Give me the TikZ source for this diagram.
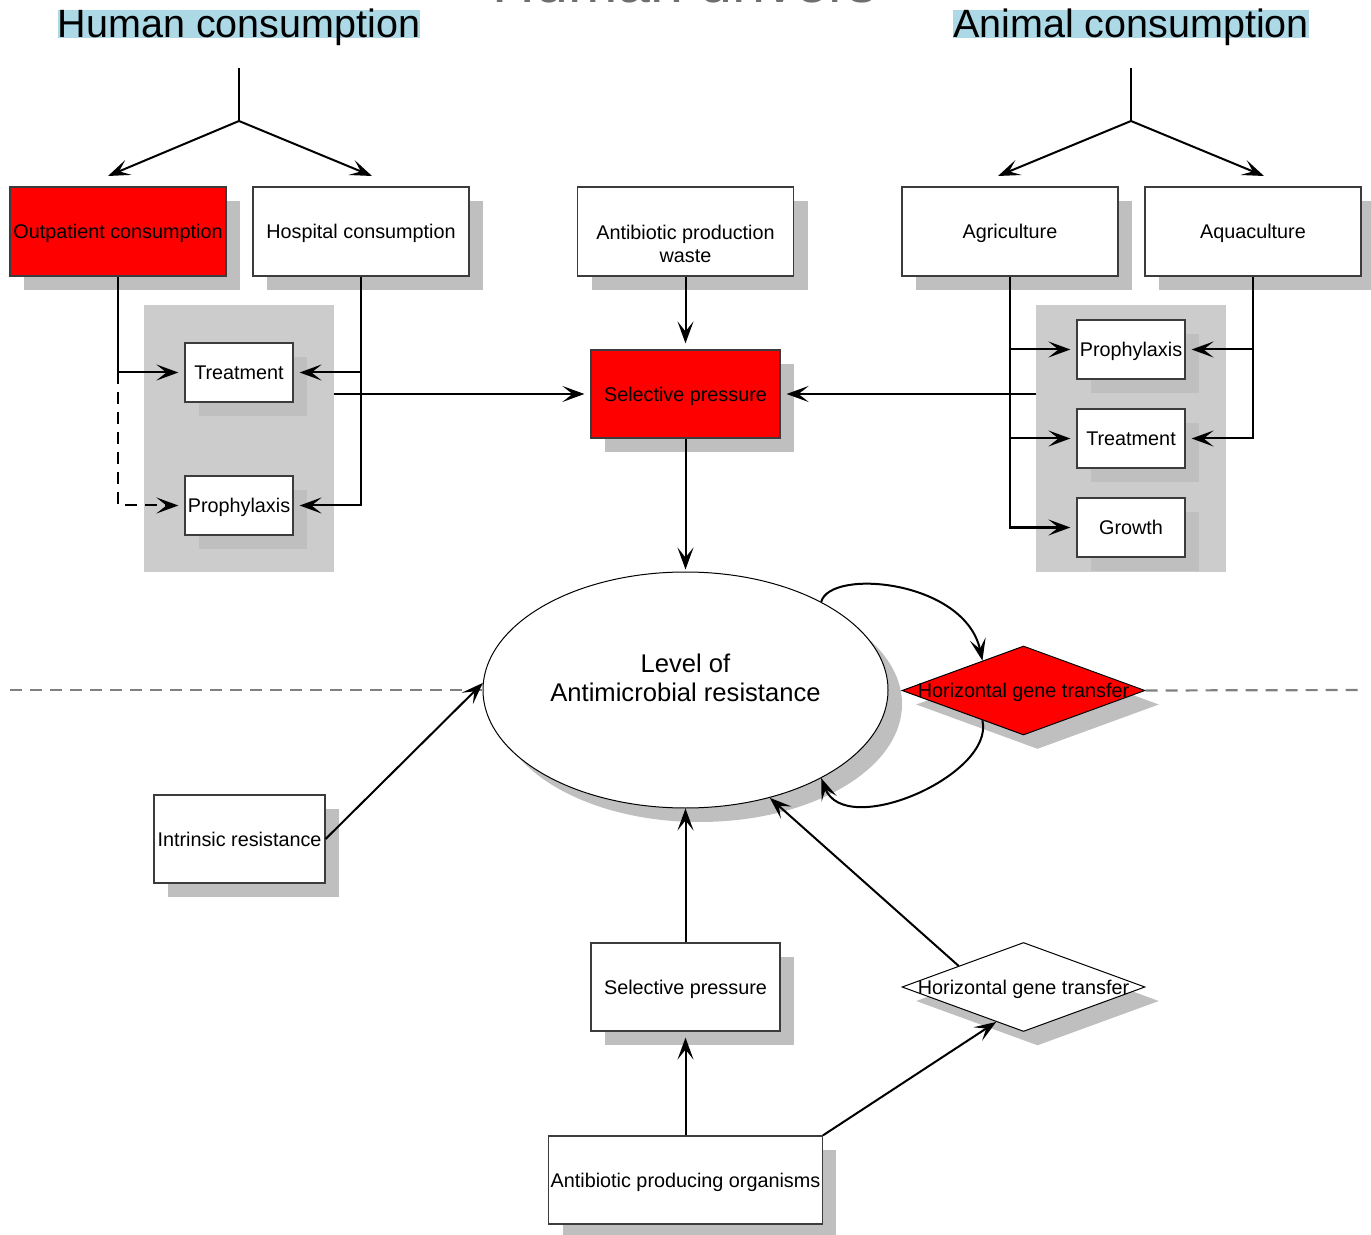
\documentclass[tikz,border=0pt]{standalone}
\usepackage{fontspec}
\setmainfont{Liberation Sans}
\usetikzlibrary{arrows.meta,shapes.geometric,shadows}
\definecolor{shgray}{RGB}{191,191,191}
\definecolor{panelgray}{RGB}{204,204,204}
\definecolor{boxborder}{RGB}{60,60,60}
\definecolor{titlebg}{RGB}{173,216,230}
\definecolor{dashgray}{RGB}{128,128,128}
\definecolor{hdgray}{RGB}{110,110,110}
\begin{document}
\begin{tikzpicture}[x=0.5pt,y=-0.5pt,
  shd/.style={drop shadow={shadow xshift=7pt,shadow yshift=-7pt,fill=shgray,opacity=1}},
  txtf/.style={font=\fontsize{9.9}{11.5}\selectfont},
  txt/.style={txtf,text height=7.1pt,text depth=0pt},
  box/.style={draw=boxborder,line width=0.6pt,fill=white,shd,minimum width=108pt,minimum height=44.5pt,inner sep=1pt,txt},
  redbox/.style={box,fill=red},
  smallbox/.style={box,minimum width=54pt,minimum height=29.5pt},
  panel/.style={fill=panelgray,minimum width=95pt,minimum height=133.5pt,inner sep=0pt},
  dia/.style={shape=diamond,draw=black,line width=0.5pt,fill=white,shd,minimum width=121.5pt,minimum height=44.5pt,inner sep=0pt,
    label={[txt,inner sep=0pt]center:Horizontal gene transfer}},
  conn/.style={line width=1pt,draw=black},
  arr/.style={conn,-{Stealth[length=11pt,width=8pt,inset=5pt]},shorten >=3pt},
  arrz/.style={arr,shorten >=0pt},
  title/.style={fill=titlebg,inner sep=0pt,text height=14.2pt,text depth=0pt,font=\fontsize{19.75}{22}\selectfont,anchor=base},
  sep/.style={draw=dashgray,line width=1.1pt,dash pattern=on 6pt off 4pt}
]
\useasboundingbox (0,0) rectangle (1371,1235);
\clip (0,0) rectangle (1371,1235);

% headings
\node[font=\fontsize{29.6}{32}\selectfont,text=hdgray,anchor=base] (hd) at (685,3) {Human drivers};
\node[title] (hc) at (239,38) {Human consumption};
\node[title] (ac) at (1131,38) {Animal consumption};

% separator
\coordinate (sepL) at (10,690);
\coordinate (sepR) at (1361,690);

% gray panels
\node[panel] (panelL) at (239,438.5) {};
\node[panel] (panelR) at (1131,438.5) {};

% top boxes
\node[redbox] (outp) at (118,231.5) {Outpatient consumption};
\node[box] (hosp) at (361,231.5) {Hospital consumption};
\node[box,label={[txtf,align=center,yshift=-6pt]center:Antibiotic production\\waste}] (waste) at (685.5,231.5) {};
\node[box] (agri) at (1010,231.5) {Agriculture};
\node[box] (aqua) at (1253,231.5) {Aquaculture};

% panel boxes
\node[smallbox] (treatL) at (239,372.5) {Treatment};
\node[smallbox] (prophL) at (239,505.5) {Prophylaxis};
\node[smallbox] (prophR) at (1131,349.5) {Prophylaxis};
\node[smallbox] (treatR) at (1131,438.5) {Treatment};
\node[smallbox] (growth) at (1131,527.5) {Growth};

% selective pressure
\node[redbox,minimum width=94.5pt,minimum height=44pt] (selP) at (685.5,394) {Selective pressure};

% ellipse
\node[ellipse,draw=black,line width=0.5pt,fill=white,shd,minimum width=202.5pt,minimum height=118pt,
  label={[font=\fontsize{12.8}{14.5}\selectfont,align=center,yshift=6pt]center:Level of\\Antimicrobial resistance}] (amr) at (685.5,690) {};

\draw[sep] (sepL) -- (amr.west);

\node[dia,fill=red] (hgt1) at (1023.5,690.5) {};
\draw[sep] (hgt1.east) -- (sepR);

% bottom
\node[box,minimum width=85.5pt,minimum height=44pt] (intr) at (239.5,839) {Intrinsic resistance};
\node[box,minimum width=94.5pt,minimum height=44pt] (selP2) at (685.5,987) {Selective pressure};
\node[dia] (hgt2) at (1023.5,987) {};
\node[box,minimum width=135.5pt,minimum height=44pt] (org) at (685.5,1180) {Antibiotic producing organisms};

% forks
\coordinate (htop) at (239,68);
\coordinate (hmid) at (239,121);
\coordinate (hl) at (108,176);
\coordinate (hr) at (372,176);
\draw[conn] (htop) -- (hmid);
\draw[arrz] (hmid) -- (hl);
\draw[arrz] (hmid) -- (hr);
\coordinate (atop) at (1131,68);
\coordinate (amid) at (1131,121);
\coordinate (al) at (998,176);
\coordinate (ar) at (1264,176);
\draw[conn] (atop) -- (amid);
\draw[arrz] (amid) -- (al);
\draw[arrz] (amid) -- (ar);

% human side
\draw[arr] (outp.south) |- (treatL.west);
\draw[arr,dash pattern=on 6pt off 4pt] (outp.south |- treatL.west) |- (prophL.west);
\draw[arr] (hosp.south) |- (treatL.east);
\draw[arr] (hosp.south) |- (prophL.east);
\draw[arr] (panelL.east |- selP.west) -- (selP.west);

% center
\draw[arr] (waste.south) -- (selP.north);
\draw[arr,shorten >=1pt] (selP.south) -- (amr.north);

% animal side
\draw[arr] (agri.south) |- (prophR.west);
\draw[arr] (agri.south) |- (treatR.west);
\draw[arr] (agri.south) |- (growth.west);
\draw[arr] (aqua.south) |- (prophR.east);
\draw[arr] (aqua.south) |- (treatR.east);
\draw[arr] (panelR.west |- selP.east) -- (selP.east);

% loop
\draw[arrz] (amr.33) .. controls (830,568) and (965,580) .. (hgt1.144);
\draw[arrz] (hgt1.216) .. controls (995,775) and (845,840) .. (amr.-33);

% bottom connectors
\draw[arrz] (intr.east) -- (amr.178);
\draw[arrz] (hgt2.162) -- (amr.-52);
\draw[arrz] (selP2.north) -- (amr.south);
\draw[arr] (org.north) -- (selP2.south);
\draw[arrz] (org.north east) -- (hgt2.232);
\end{tikzpicture}
\end{document}
